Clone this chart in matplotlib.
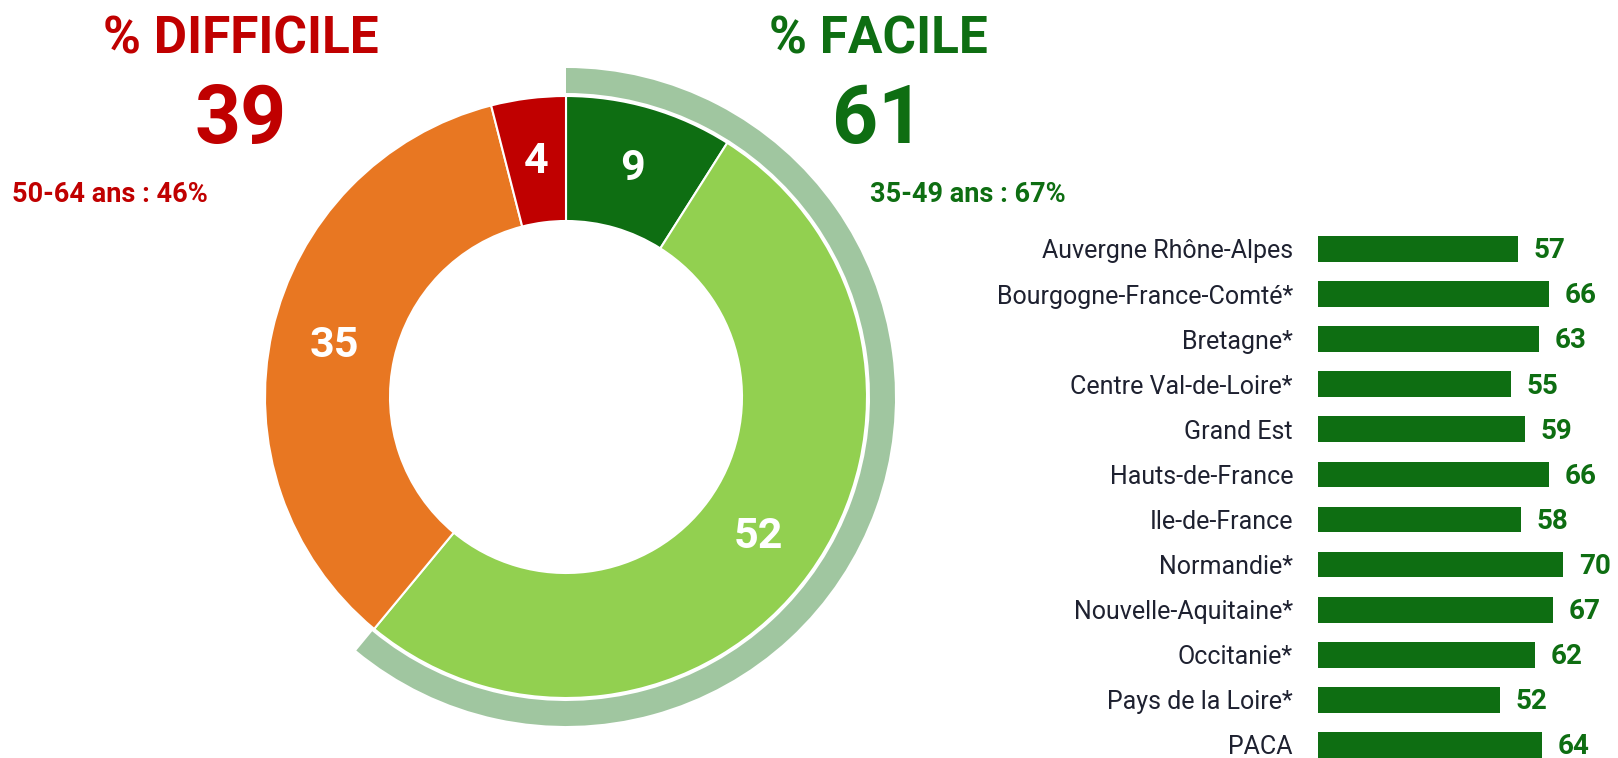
import numpy as np
import matplotlib.pyplot as plt
from matplotlib.patches import Wedge

# données
parts = [9, 52, 35, 4]
part_colors = ['#0E6E12', '#92D050', '#E87722', '#C00000']
facile = 61
difficile = 39

regions = ['Auvergne Rhône-Alpes', 'Bourgogne-France-Comté*', 'Bretagne*',
           'Centre Val-de-Loire*', 'Grand Est', 'Hauts-de-France',
           'Ile-de-France', 'Normandie*', 'Nouvelle-Aquitaine*', 'Occitanie*',
           'Pays de la Loire*', 'PACA']
region_vals = [57, 66, 63, 55, 59, 66, 58, 70, 67, 62, 52, 64]

GREEN = '#0E6E12'
RED = '#C00000'
BAND = '#A0C6A0'
TXT = '#1E2130'

plt.rcParams['font.family'] = ['Roboto', 'DejaVu Sans']

W, H = 1618, 758
fig = plt.figure(figsize=(W / 100, H / 100), dpi=100)

# donut (unités = pixels)
cx, cy = 566, 397
ax = fig.add_axes([(cx - 350) / W, (H - cy - 350) / H, 700 / W, 700 / H])

wedges, _, autotexts = ax.pie(parts, colors=part_colors, radius=301, startangle=90,
                              counterclock=False, autopct=lambda p: f'{p:.0f}',
                              pctdistance=0.79,
                              wedgeprops=dict(width=125, edgecolor='white', linewidth=1.5),
                              textprops=dict(color='white', fontsize=31, fontweight='bold'))

# bande "facile"
band = Wedge((0, 0), 329, 90 - facile * 3.6, 90, width=25, facecolor=BAND,
             edgecolor='none')
ax.add_patch(band)
ax.set_xlim(-350, 350)
ax.set_ylim(-350, 350)
ax.set_aspect('equal')
ax.axis('off')

# titres
fig.text(241 / W, 1 - 40 / H, '% DIFFICILE', color=RED, fontsize=37,
         fontweight='bold', ha='center', va='center')
fig.text(241 / W, 1 - 121 / H, str(difficile), color=RED, fontsize=58,
         fontweight='bold', ha='center', va='center')
fig.text(12 / W, 1 - 194 / H, '50-64 ans : 46%', color=RED, fontsize=19.5,
         fontweight='bold', ha='left', va='center')

fig.text(878 / W, 1 - 40 / H, '% FACILE', color=GREEN, fontsize=37,
         fontweight='bold', ha='center', va='center')
fig.text(878 / W, 1 - 121 / H, str(facile), color=GREEN, fontsize=58,
         fontweight='bold', ha='center', va='center')
fig.text(870 / W, 1 - 194 / H, '35-49 ans : 67%', color=GREEN, fontsize=19.5,
         fontweight='bold', ha='left', va='center')

# barres régions
bx = fig.add_axes([1318 / W, 0, 300 / W, (H - 226) / H])
y = np.arange(len(regions))
bx.barh(y, region_vals, height=0.57, color=GREEN)
bx.set_xlim(0, 300 / 3.5)
bx.set_ylim(11.29, -0.51)
for i, v in enumerate(region_vals):
    bx.text(v + 4.5, i + 0.04, str(v), color=GREEN, fontsize=20,
            fontweight='bold', ha='left', va='center')
bx.set_yticks(y)
bx.set_yticklabels(regions, fontsize=18, color=TXT)
bx.tick_params(axis='y', length=0, pad=18)
bx.set_xticks([])
for s in bx.spines.values():
    s.set_visible(False)

plt.savefig('out.png', dpi=100)
